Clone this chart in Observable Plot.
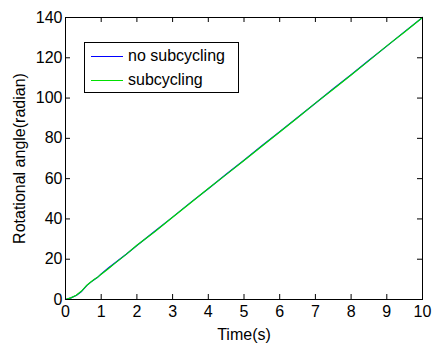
<!DOCTYPE html>
<html><head><meta charset="utf-8">
<script src="https://cdn.jsdelivr.net/npm/d3@7"></script>
<script src="https://cdn.jsdelivr.net/npm/@observablehq/plot@0.6"></script>
<style>
body{margin:0;background:#fff;}
#wrap{position:relative;width:432px;height:345px;font-family:"Liberation Sans",Arial,sans-serif;}
#legend{position:absolute;left:84px;top:42px;width:155px;height:51px;border:1px solid #000;background:#fff;font-size:16px;box-sizing:border-box;}
.row{position:absolute;left:6px;height:20px;}
.sw{position:absolute;left:0;top:10px;width:32px;height:1px;}
.lbl{position:absolute;left:37px;top:1px;white-space:nowrap;line-height:18px;}
</style></head>
<body><div id="wrap"></div>
<script>
const time = [0,0.15,0.3,0.45,0.6,0.7,0.8,0.9,1,1.2,1.4,1.7,2,2.5,3,3.5,4,4.5,5,5.5,6,6.5,7,7.5,8,8.5,9,9.5,10];
const noSubcycling = [0,0.8,2,4,7,8.5,9.8,11,12.7,15.6,18.4,22.5,26.8,33.9,40.9,48.1,55,62.2,69.1,76.3,83.3,90.4,97.4,104.6,111.6,118.8,125.8,133,140];
const subcycling  = [0,0.8,2.1,4.2,7.1,8.6,9.9,11.1,12.5,15.3,18.2,22.4,26.9,33.6,40.8,47.9,55.1,62,69,76.1,83.2,90.2,97.5,104.4,111.5,118.6,125.9,132.8,140];
const seriesNames = ["no subcycling","subcycling"];
const colors = ["#0000ff","#00e000"];
const xTicks = [0,1,2,3,4,5,6,7,8,9,10];
const yTicks = [0,20,40,60,80,100,120,140];

const W = 432, H = 345, mL = 65, mR = 10, mT = 17, mB = 46, TL = 5;
const fw = W - mL - mR, fh = H - mT - mB;

const rows = [];
time.forEach((t,i)=>{rows.push({t,v:noSubcycling[i],s:seriesNames[0]});});
time.forEach((t,i)=>{rows.push({t,v:subcycling[i],s:seriesNames[1]});});

const plot = Plot.plot({
  width:W, height:H,
  marginLeft:mL, marginRight:mR, marginTop:mT, marginBottom:mB,
  style:{fontFamily:'"Liberation Sans",Arial,sans-serif',fontSize:"16px",color:"#000",background:"#fff"},
  x:{domain:[0,10]},
  y:{domain:[0,140]},
  color:{domain:seriesNames,range:colors},
  marks:[
    Plot.axisX(xTicks,{anchor:"bottom",tickSize:0,tickPadding:6,label:"Time(s)",labelAnchor:"center",labelArrow:false,labelOffset:40,fontSize:16}),
    Plot.axisY(yTicks,{anchor:"left",tickSize:0,tickPadding:3,label:"Rotational angle(radian)",labelAnchor:"center",labelArrow:false,labelOffset:52,fontSize:16}),
    Plot.tickX(xTicks,{x:d=>d,stroke:"#000",insetTop:fh-TL}),
    Plot.tickX(xTicks,{x:d=>d,stroke:"#000",insetBottom:fh-TL}),
    Plot.tickY(yTicks,{y:d=>d,stroke:"#000",insetRight:fw-TL}),
    Plot.tickY(yTicks,{y:d=>d,stroke:"#000",insetLeft:fw-TL}),
    Plot.line(rows,{x:"t",y:"v",z:"s",stroke:"s",strokeWidth:1.2}),
    Plot.frame({stroke:"#000"})
  ]
});
const wrap = document.getElementById("wrap");
wrap.appendChild(plot);
const lg = document.createElement("div");
lg.id="legend";
seriesNames.forEach((n,i)=>{
  const r=document.createElement("div");r.className="row";r.style.top=(i===0?3:27)+"px";
  const s=document.createElement("div");s.className="sw";s.style.background=colors[i];
  const tx=document.createElement("span");tx.className="lbl";tx.textContent=n;
  r.appendChild(s);r.appendChild(tx);lg.appendChild(r);
});
wrap.appendChild(lg);
</script></body></html>
